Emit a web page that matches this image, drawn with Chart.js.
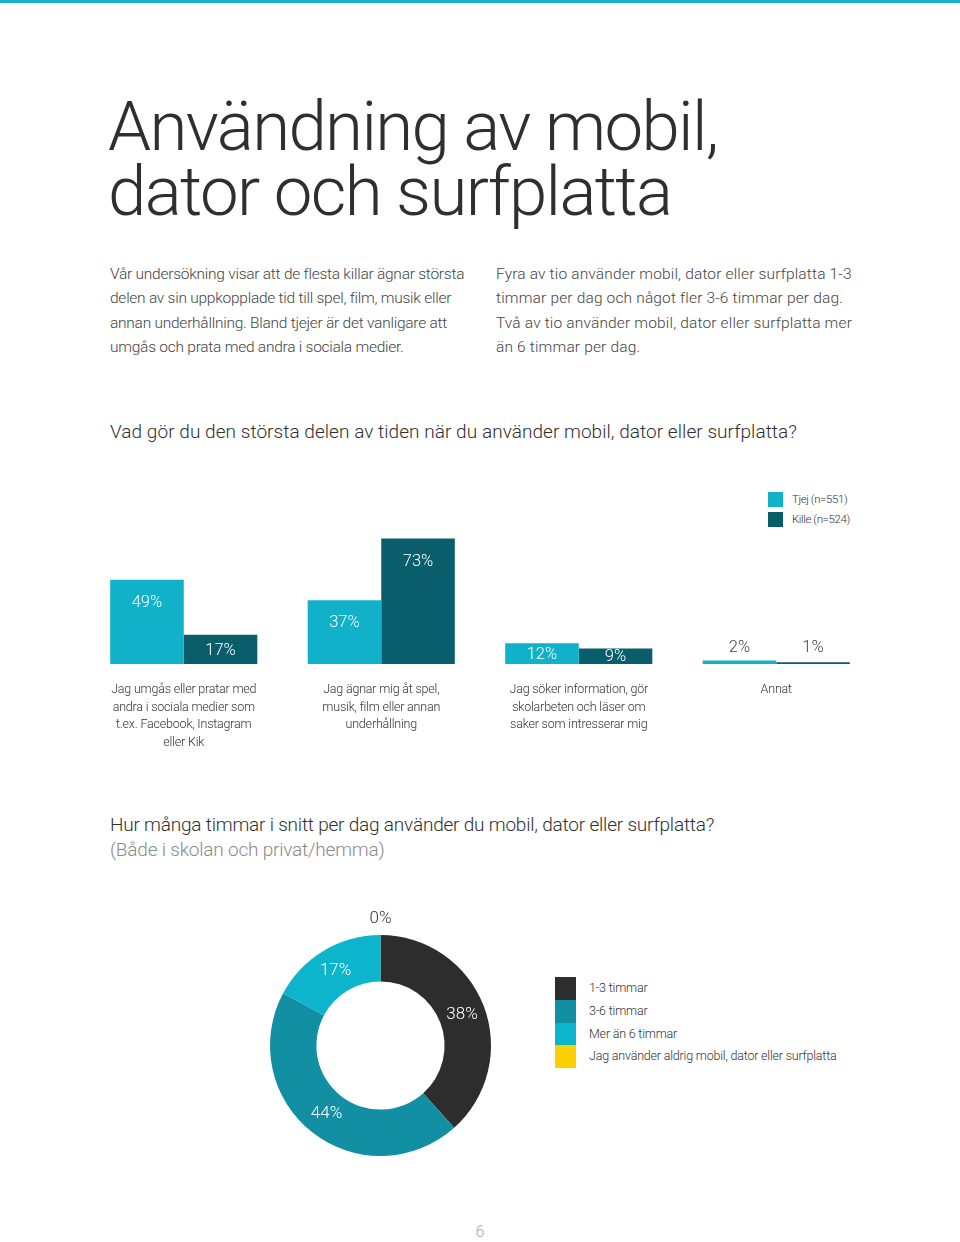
<!DOCTYPE html>
<html lang="sv">
<head>
<meta charset="utf-8">
<title>Användning av mobil, dator och surfplatta</title>
<script src="https://cdn.jsdelivr.net/npm/chart.js@4.4.1/dist/chart.umd.min.js"></script>
<style>
  body { margin: 0; width: 960px; height: 1242px; position: relative; overflow: hidden; background: #fff;
         font-family: Roboto, "Liberation Sans", sans-serif; color: #333; }
  .topbar { position: absolute; left: 0; top: 0; width: 960px; height: 3px; background: #17afc2; }
  h1 { position: absolute; left: 108px; top: 94px; margin: 0; font-weight: 300; font-size: 69px;
       line-height: 65px; letter-spacing: -1.65px; color: #2f2f2f; white-space: nowrap; }
  .para { position: absolute; top: 262px; font-weight: 300; font-size: 15.5px; line-height: 24.4px;
          color: #444; white-space: nowrap; }
  .q { position: absolute; left: 110px; margin: 0; font-weight: 300; font-size: 19px; line-height: 25px;
       color: #2f2f2f; white-space: nowrap; letter-spacing: -0.2px; }
  .q span { color: #8a8a8a; }
  .legend { position: absolute; font-weight: 300; color: #333; white-space: nowrap; }
  .legend div { position: relative; }
  .legend i { position: absolute; left: 0; top: 0; }
  #barLegend { left: 768px; top: 492px; font-size: 11.5px; letter-spacing: -0.4px; }
  #barLegend div { height: 20px; }
  #barLegend i { width: 15px; height: 15px; }
  #barLegend span { position: absolute; left: 24px; top: 0; line-height: 15px; }
  #donutLegend { left: 555px; top: 977px; font-size: 12.5px; letter-spacing: -0.2px; }
  #donutLegend div { height: 22.8px; }
  #donutLegend i { width: 21px; height: 22.8px; }
  #donutLegend span { position: absolute; left: 34px; top: 0; line-height: 22.8px; }
  #bars { position: absolute; left: 0; top: 480px; }
  #donut { position: absolute; left: 230px; top: 895px; }
  .page { position: absolute; left: 0; width: 960px; top: 1222px; text-align: center; font-weight: 300;
          font-size: 16px; color: #aaa; }
</style>
</head>
<body>
<div class="topbar"></div>
<h1>Användning av mobil,<br>dator och surfplatta</h1>
<div class="para" style="left:110px; letter-spacing:-0.25px">Vår undersökning visar att de flesta killar ägnar största<br>delen av sin uppkopplade tid till spel, film, musik eller<br>annan underhållning. Bland tjejer är det vanligare att<br>umgås och prata med andra i sociala medier.</div>
<div class="para" style="left:496px; letter-spacing:0.16px">Fyra av tio använder mobil, dator eller surfplatta 1-3<br>timmar per dag och något fler 3-6 timmar per dag.<br>Två av tio använder mobil, dator eller surfplatta mer<br>än 6 timmar per dag.</div>

<p class="q" style="top:419px; letter-spacing:0.05px">Vad gör du den största delen av tiden när du använder mobil, dator eller surfplatta?</p>
<div class="legend" id="barLegend"></div>
<canvas id="bars" width="960" height="290"></canvas>

<p class="q" style="top:812px">Hur många timmar i snitt per dag använder du mobil, dator eller surfplatta?<br><span>(Både i skolan och privat/hemma)</span></p>
<canvas id="donut" width="301" height="301"></canvas>
<div class="legend" id="donutLegend"></div>

<div class="page">6</div>

<script>
// Data: aktiviteter (stapeldiagram)
const aktiviteter = [
  ['Jag umgås eller pratar med', 'andra i sociala medier som', 't.ex. Facebook, Instagram', 'eller Kik'],
  ['Jag ägnar mig åt spel,', 'musik, film eller annan', 'underhållning'],
  ['Jag söker information, gör', 'skolarbeten och läser om', 'saker som intresserar mig'],
  ['Annat']
];
const serier = ['Tjej (n=551)', 'Kille (n=524)'];
const tjej = [49, 37, 12, 2];
const kille = [17, 73, 9, 1];

// Data: timmar per dag (ringdiagram)
const timmar = ['1-3 timmar', '3-6 timmar', 'Mer än 6 timmar', 'Jag använder aldrig mobil, dator eller surfplatta'];
const timmarAndel = [38, 44, 17, 0];

// Färger
const serieFarger = ['#12b1ca', '#0a5d6b'];
const timmarFarger = ['#2d2d2d', '#138fa4', '#0cb4cc', '#fccf00'];

// Legender
function buildLegend(id, labels, colors) {
  const box = document.getElementById(id);
  labels.forEach((label, i) => {
    const row = document.createElement('div');
    row.innerHTML = `<i style="background:${colors[i]}"></i><span>${label}</span>`;
    box.appendChild(row);
  });
}
buildLegend('barLegend', serier, serieFarger);
buildLegend('donutLegend', timmar, timmarFarger);

const labelFont = '300 16.5px Roboto, "Liberation Sans", sans-serif';

// Etiketter i staplarna + kategorinamn under
const barLabels = {
  id: 'barLabels',
  afterDatasetsDraw(chart) {
    const ctx = chart.ctx;
    ctx.save();
    ctx.textAlign = 'center';
    ctx.textBaseline = 'middle';
    chart.data.datasets.forEach((ds, d) => {
      chart.getDatasetMeta(d).data.forEach((bar, i) => {
        const v = ds.data[i];
        const h = bar.base - bar.y;
        let y, color = '#fff';
        if (v <= 2) { y = bar.base - 16; color = '#444'; }
        else if (h < 40) y = (bar.y + bar.base) / 2 + 1;
        else y = bar.y + 23;
        ctx.font = labelFont;
        ctx.fillStyle = color;
        ctx.fillText(v + '%', bar.x, y);
      });
    });
    const x = chart.scales.x;
    const base = chart.chartArea.bottom;
    ctx.font = '300 12.5px Roboto, "Liberation Sans", sans-serif';
    ctx.letterSpacing = '-0.2px';
    ctx.fillStyle = '#333';
    aktiviteter.forEach((lines, i) => {
      lines.forEach((line, j) => {
        ctx.fillText(line, x.getPixelForValue(i), base + 26 + j * 17.6);
      });
    });
    ctx.restore();
  }
};

new Chart(document.getElementById('bars'), {
  type: 'bar',
  data: {
    labels: aktiviteter.map(a => a.join(' ')),
    datasets: [
      { label: serier[0], data: tjej, backgroundColor: serieFarger[0] },
      { label: serier[1], data: kille, backgroundColor: serieFarger[1] }
    ]
  },
  options: {
    responsive: false,
    animation: false,
    layout: { padding: { left: 85, right: 85, top: 12, bottom: 106 } },
    datasets: { bar: { categoryPercentage: 0.745, barPercentage: 1, borderWidth: 0 } },
    plugins: { legend: { display: false }, tooltip: { enabled: false } },
    scales: {
      x: { display: false },
      y: { display: false, min: 0, max: 100 }
    }
  },
  plugins: [barLabels]
});

// Procent i ringen
const donutLabels = {
  id: 'donutLabels',
  afterDatasetsDraw(chart) {
    const ctx = chart.ctx;
    ctx.save();
    ctx.textAlign = 'center';
    ctx.textBaseline = 'middle';
    ctx.font = '300 17px Roboto, "Liberation Sans", sans-serif';
    chart.getDatasetMeta(0).data.forEach((arc, i) => {
      const v = timmarAndel[i];
      const mid = (arc.startAngle + arc.endAngle) / 2;
      let r = (arc.innerRadius + arc.outerRadius) / 2;
      ctx.fillStyle = '#fff';
      if (v === 0) { r = arc.outerRadius + 16; ctx.fillStyle = '#333'; }
      ctx.fillText(v + '%', arc.x + Math.cos(mid) * r, arc.y + Math.sin(mid) * r);
    });
    ctx.restore();
  }
};

new Chart(document.getElementById('donut'), {
  type: 'doughnut',
  data: {
    labels: timmar,
    datasets: [{ data: timmarAndel, backgroundColor: timmarFarger, borderWidth: 0 }]
  },
  options: {
    responsive: false,
    animation: false,
    cutout: '58%',
    layout: { padding: 40 },
    plugins: { legend: { display: false }, tooltip: { enabled: false } }
  },
  plugins: [donutLabels]
});
</script>
</body>
</html>
